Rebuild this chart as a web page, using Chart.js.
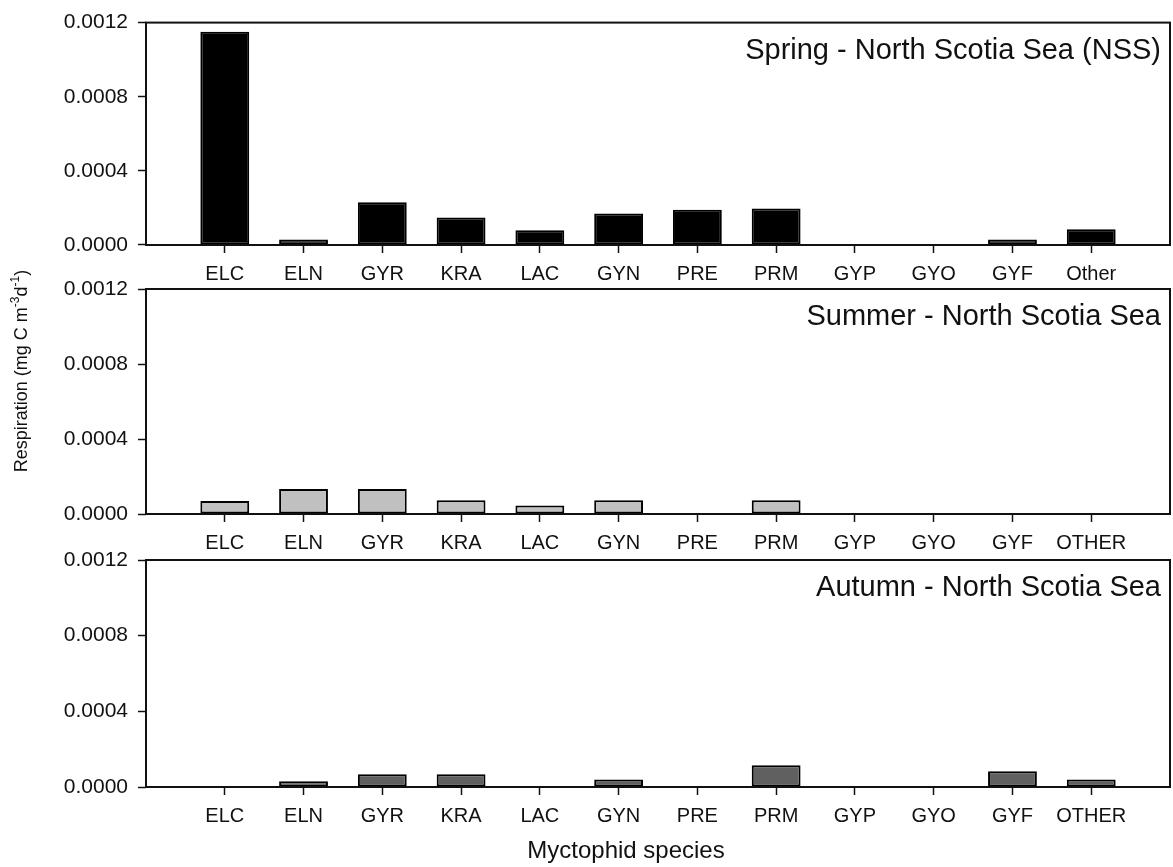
<!DOCTYPE html>
<html>
<head>
<meta charset="utf-8">
<script src="https://cdn.jsdelivr.net/npm/chart.js@4.4.1/dist/chart.umd.min.js"></script>
<style>
  html, body { margin: 0; padding: 0; background: #fff; }
  #wrap { position: relative; width: 1173px; height: 867px; overflow: hidden; }
  #wrap canvas { position: absolute; left: 0; top: 0; }
</style>
</head>
<body>
<div id="wrap">
  <canvas id="spring" width="1173" height="867"></canvas>
  <canvas id="summer" width="1173" height="867"></canvas>
  <canvas id="autumn" width="1173" height="867"></canvas>
</div>
<script>
// Myctophid species codes (the spring panel writes the last group as "Other")
const speciesSpring = ['ELC', 'ELN', 'GYR', 'KRA', 'LAC', 'GYN', 'PRE', 'PRM', 'GYP', 'GYO', 'GYF', 'Other'];
const speciesSummer = ['ELC', 'ELN', 'GYR', 'KRA', 'LAC', 'GYN', 'PRE', 'PRM', 'GYP', 'GYO', 'GYF', 'OTHER'];
const speciesAutumn = ['ELC', 'ELN', 'GYR', 'KRA', 'LAC', 'GYN', 'PRE', 'PRM', 'GYP', 'GYO', 'GYF', 'OTHER'];

// Respiration, mg C m^-3 d^-1
const springValues = [0.00115, 0.00003, 0.00023, 0.000148, 0.00008, 0.00017, 0.00019, 0.000197, 0, 0, 0.00003, 0.000085];
const summerValues = [0.00007, 0.000133, 0.000133, 0.000074, 0.000046, 0.000074, 0, 0.000074, 0, 0, 0, 0.000004];
const autumnValues = [0, 0.00003, 0.000067, 0.000067, 0, 0.00004, 0, 0.000115, 0, 0, 0.000083, 0.00004];

const yTickValues = [0, 0.0004, 0.0008, 0.0012];

const springTitle = 'Spring - North Scotia Sea (NSS)';
const summerTitle = 'Summer - North Scotia Sea';
const autumnTitle = 'Autumn - North Scotia Sea';
const xAxisTitle = 'Myctophid species';
const yAxisTitleParts = [['Respiration (mg C m', false], ['-3', true], ['d', false], ['-1', true], [')', false]];

const FONT = '"Liberation Sans", Arial, Helvetica, sans-serif';
const INK = '#111';

// Boxed frame around each plot area plus the panel caption in the top-right corner
const panelFrame = {
  id: 'panelFrame',
  afterDatasetsDraw(chart, args, opts) {
    const { ctx, chartArea: a } = chart;
    ctx.save();
    ctx.strokeStyle = INK;
    ctx.lineWidth = 2;
    ctx.strokeRect(a.left, a.top, a.right - a.left, a.bottom - a.top);
    ctx.fillStyle = INK;
    ctx.font = '29px ' + FONT;
    ctx.textAlign = 'right';
    ctx.textBaseline = 'alphabetic';
    ctx.fillText(opts.title, a.right - 9, a.top + 36);
    ctx.restore();
  }
};

// Shared axis titles (x under the bottom panel, rotated y title on the left)
const axisTitles = {
  id: 'axisTitles',
  afterDraw(chart) {
    const { ctx } = chart;
    ctx.save();
    ctx.fillStyle = INK;
    ctx.font = '24px ' + FONT;
    ctx.textAlign = 'center';
    ctx.textBaseline = 'alphabetic';
    ctx.fillText(xAxisTitle, 626, 858);

    // y title with superscripted exponents
    const big = '18px ' + FONT, small = '12px ' + FONT;
    let total = 0;
    const widths = yAxisTitleParts.map(([t, sup]) => {
      ctx.font = sup ? small : big;
      const w = ctx.measureText(t).width;
      total += w;
      return w;
    });
    ctx.translate(22, 371);
    ctx.rotate(-Math.PI / 2);
    ctx.textAlign = 'left';
    ctx.textBaseline = 'middle';
    let x = -total / 2;
    yAxisTitleParts.forEach(([t, sup], i) => {
      ctx.font = sup ? small : big;
      ctx.fillText(t, x, sup ? -6 : 0);
      x += widths[i];
    });
    ctx.restore();
  }
};

function makePanel(id, species, values, fill, title, plotTop, plotBottom, extraPlugins) {
  // an empty slot on each side leaves a one-category margin at both ends of the axis
  const labels = [''].concat(species, ['']);
  const data = [null].concat(values, [null]);
  const H = 867, xAxisH = 40;
  return new Chart(document.getElementById(id), {
    type: 'bar',
    data: {
      labels,
      datasets: [{
        data,
        backgroundColor: fill,
        borderColor: '#000',
        borderWidth: 2,
        borderSkipped: false,
        barPercentage: 0.62,
        categoryPercentage: 1
      }]
    },
    options: {
      responsive: false,
      animation: false,
      events: [],
      layout: { padding: { top: plotTop, bottom: H - plotBottom - xAxisH, left: 0, right: 3 } },
      plugins: {
        legend: { display: false },
        tooltip: { enabled: false },
        panelFrame: { title }
      },
      scales: {
        x: {
          type: 'category',
          offset: false,
          border: { display: false },
          grid: {
            display: true,
            offset: false,
            drawOnChartArea: false,
            drawTicks: true,
            tickLength: 8,
            tickWidth: 1.5,
            tickColor: (c) => (c.index === 0 || c.index === labels.length - 1) ? 'rgba(0,0,0,0)' : INK
          },
          ticks: {
            autoSkip: false,
            maxRotation: 0,
            minRotation: 0,
            padding: 9,
            color: INK,
            font: { family: FONT, size: 20 }
          },
          afterFit: (s) => { s.height = xAxisH; s.paddingLeft = 0; s.paddingRight = 0; }
        },
        y: {
          min: 0,
          max: 0.0012,
          border: { display: false },
          grid: {
            display: true,
            drawOnChartArea: false,
            drawTicks: true,
            tickLength: 8,
            tickWidth: 1.5,
            tickColor: INK
          },
          ticks: {
            padding: 10,
            color: INK,
            font: { family: FONT, size: 21 },
            callback: (v) => Number(v).toFixed(4)
          },
          afterBuildTicks: (s) => { s.ticks = yTickValues.map(v => ({ value: v })); },
          afterFit: (s) => { s.width = 146; }
        }
      }
    },
    plugins: [panelFrame].concat(extraPlugins || [])
  });
}

makePanel('spring', speciesSpring, springValues, '#000000', springTitle, 18, 245);
makePanel('summer', speciesSummer, summerValues, '#c0c0c0', summerTitle, 289, 514);
makePanel('autumn', speciesAutumn, autumnValues, '#606060', autumnTitle, 560, 787, [axisTitles]);
</script>
</body>
</html>
